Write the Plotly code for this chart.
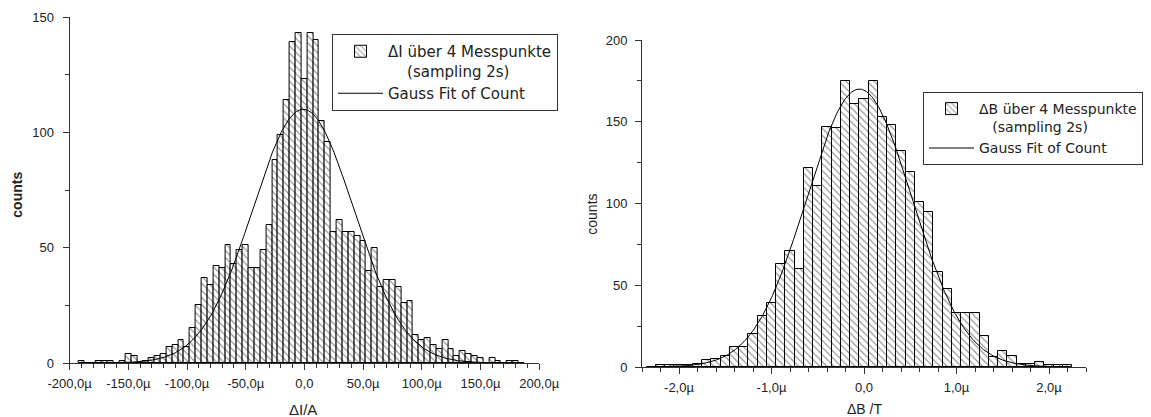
import numpy as np
import plotly.graph_objects as go

# ---------------- data ----------------
# left histogram: ΔI (in µA), bin centres every 5 µ
di_centers = [-190, -185, -180, -175, -170, -165, -160, -155, -150, -145, -140, -135, -130, -125,
              -120, -115, -110, -105, -100, -95, -90, -85, -80, -75, -70, -65, -60, -55, -50, -45,
              -40, -35, -30, -25, -20, -15, -10, -5, 0, 5, 10, 15, 20, 25, 30, 35, 40, 45, 50, 55,
              60, 65, 70, 75, 80, 85, 90, 95, 100, 105, 110, 115, 120, 125, 130, 135, 140, 145,
              150, 155, 160, 165, 170, 175, 180, 185]
di_counts = [1, 0, 0, 1, 1, 1, 0, 1, 4, 3, 0, 1, 2, 3,
             4, 7, 8, 10, 7, 15, 25, 37, 34, 42, 41, 51, 43, 49, 51, 41,
             41, 49, 60, 88, 99, 114, 139, 143, 123, 143, 140, 105, 96, 57, 62, 57, 57, 55, 53, 40,
             50, 33, 36, 36, 33, 26, 27, 12, 10, 11, 8, 6, 10, 6, 3, 5, 4, 3,
             2, 0, 2, 1, 0, 1, 1, 0]
di_bin_width = 5
di_fit = dict(amp=110.0, mu=-1.0, sigma=43.0, xmin=-190, xmax=185)

# right histogram: ΔB (in µT), bin centres every 0.1 µ
db_centers = [-2.3, -2.2, -2.1, -2.0, -1.9, -1.8, -1.7, -1.6, -1.5, -1.4, -1.3, -1.2, -1.1, -1.0,
              -0.9, -0.8, -0.7, -0.6, -0.5, -0.4, -0.3, -0.2, -0.1, 0.0, 0.1, 0.2, 0.3, 0.4, 0.5,
              0.6, 0.7, 0.8, 0.9, 1.0, 1.1, 1.2, 1.3, 1.4, 1.5, 1.6, 1.7, 1.8, 1.9, 2.0, 2.1, 2.2]
db_counts = [0, 1, 1, 1, 1, 2, 4, 5, 7, 12, 12, 20, 31, 39,
             63, 71, 60, 122, 111, 147, 146, 175, 161, 164, 175, 153, 148, 132, 119,
             101, 95, 58, 48, 33, 33, 33, 19, 6, 10, 7, 2, 2, 3, 1, 1, 1]
db_bin_width = 0.1
db_fit = dict(amp=170.0, mu=-0.05, sigma=0.57, xmin=-2.3, xmax=2.25)

di_ticks = [-200, -150, -100, -50, 0, 50, 100, 150, 200]
di_ticktext = ["-200,0µ", "-150,0µ", "-100,0µ", "-50,0µ", "0,0", "50,0µ", "100,0µ", "150,0µ", "200,0µ"]
db_ticks = [-2, -1, 0, 1, 2]
db_ticktext = ["-2,0µ", "-1,0µ", "0,0", "1,0µ", "2,0µ"]

name_i = "ΔI über 4 Messpunkte<br>\u00a0\u00a0\u00a0\u00a0(sampling 2s)"
name_b = "ΔB über 4 Messpunkte<br>\u00a0\u00a0\u00a0(sampling 2s)"
name_fit = "Gauss Fit of Count"


def gauss(p, n=400):
    xs = np.linspace(p["xmin"], p["xmax"], n)
    return xs, p["amp"] * np.exp(-((xs - p["mu"]) ** 2) / (2 * p["sigma"] ** 2))


FONT = "Arial, Liberation Sans, sans-serif"
LFONT = "DejaVu Sans, Arial, sans-serif"
TXT = "#222222"
AX = "#333333"
W, H = 1151, 417

bar_marker = dict(color="white", line=dict(color="black", width=1),
                  pattern=dict(shape="\\", size=5, solidity=0.24, fgcolor="#2a2a2a", bgcolor="white"))

fig = go.Figure()
fig.add_trace(go.Bar(x=di_centers, y=di_counts, width=di_bin_width, marker=bar_marker,
                     name=name_i, xaxis="x", yaxis="y", legend="legend"))
fx, fy = gauss(di_fit)
fig.add_trace(go.Scatter(x=fx, y=fy, mode="lines", line=dict(color="black", width=1),
                         name=name_fit, xaxis="x", yaxis="y", legend="legend"))

fig.add_trace(go.Bar(x=db_centers, y=db_counts, width=db_bin_width, marker=bar_marker,
                     name=name_b, xaxis="x2", yaxis="y2", legend="legend2"))
gx, gy = gauss(db_fit)
fig.add_trace(go.Scatter(x=gx, y=gy, mode="lines", line=dict(color="black", width=1),
                         name=name_fit, xaxis="x2", yaxis="y2", legend="legend2"))

tickfont = dict(family=FONT, size=13, color=TXT)
common = dict(showline=True, linecolor=AX, linewidth=1, ticks="outside", ticklen=6, tickcolor=AX,
              showgrid=False, zeroline=False, tickfont=tickfont)

fig.update_layout(
    width=W, height=H,
    margin=dict(l=0, r=0, t=0, b=0, autoexpand=False),
    paper_bgcolor="white", plot_bgcolor="white",
    bargap=0,
    showlegend=True,
    xaxis=dict(domain=[69.6 / W, 539.2 / W], range=[-200, 200], anchor="y",
               tickmode="array", tickvals=di_ticks, ticktext=di_ticktext, ticklabelstandoff=2,
               minor=dict(ticks="outside", ticklen=4, tickcolor=AX, dtick=10, tick0=0), **common),
    yaxis=dict(domain=[(H - 363) / H, (H - 17) / H], range=[0, 150], anchor="x",
               tickmode="linear", dtick=50, tick0=0, ticklabelstandoff=6,
               minor=dict(ticks="outside", ticklen=4, tickcolor=AX, dtick=25, tick0=0), **common),
    xaxis2=dict(domain=[642 / W, 1086 / W], range=[-2.4, 2.4], anchor="y2",
                tickmode="array", tickvals=db_ticks, ticktext=db_ticktext, ticklabelstandoff=2,
                minor=dict(ticks="outside", ticklen=4, tickcolor=AX, dtick=0.2, tick0=0), **common),
    yaxis2=dict(domain=[(H - 367) / H, (H - 40) / H], range=[0, 200], anchor="x2",
                tickmode="linear", dtick=50, tick0=0, ticklabelstandoff=5,
                minor=dict(ticks="outside", ticklen=4, tickcolor=AX, dtick=25, tick0=0), **common),
    legend=dict(x=332 / W, y=1 - 34 / H, xanchor="left", yanchor="top", bgcolor="white",
                bordercolor=AX, borderwidth=1, valign="top", tracegroupgap=0, itemwidth=45,
                font=dict(family=LFONT, size=15, color=TXT)),
    legend2=dict(x=923 / W, y=1 - 92 / H, xanchor="left", yanchor="top", bgcolor="white",
                 bordercolor=AX, borderwidth=1, valign="top", tracegroupgap=0, itemwidth=45,
                 font=dict(family=LFONT, size=14, color=TXT)),
    annotations=[
        dict(text="<b>counts</b>", x=16.7 / W, y=(H - 195) / H, xref="paper", yref="paper",
             xanchor="center", yanchor="middle",
             textangle=-90, showarrow=False, font=dict(family=FONT, size=14, color=TXT)),
        dict(text="counts", x=591.7 / W, y=(H - 214) / H, xref="paper", yref="paper",
             xanchor="center", yanchor="middle",
             textangle=-90, showarrow=False, font=dict(family=FONT, size=14, color=TXT)),
        dict(text="ΔI/A", x=303 / W, y=(H - 409) / H, xref="paper", yref="paper",
             xanchor="center", yanchor="middle",
             showarrow=False, font=dict(family=FONT, size=15, color=TXT)),
        dict(text="ΔB /T", x=864 / W, y=(H - 409) / H, xref="paper", yref="paper",
             xanchor="center", yanchor="middle",
             showarrow=False, font=dict(family=FONT, size=14, color=TXT)),
    ],
)

fig.write_html("out.html")
